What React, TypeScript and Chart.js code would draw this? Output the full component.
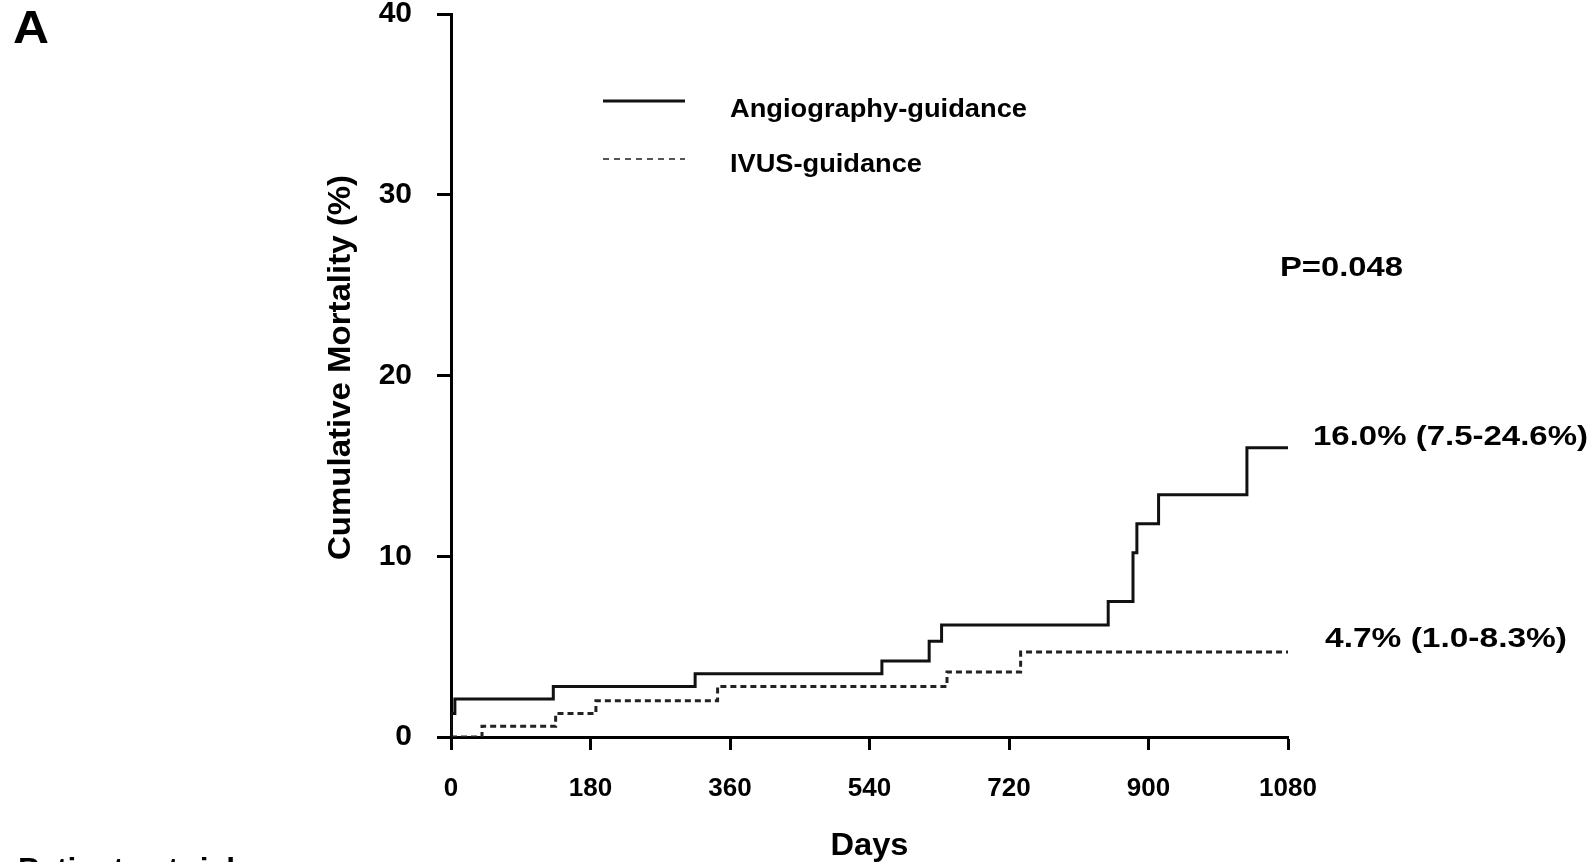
import React, { useEffect, useRef } from "react";
import { Chart, registerables } from "chart.js";

Chart.register(...registerables);

// ---- Data ----
const angioDays = [0, 0, 5, 132, 315, 556, 617, 633, 848, 880, 885, 913, 1027, 1080];
const angioCum = [0, 1.3, 2.1, 2.8, 3.5, 4.2, 5.3, 6.2, 7.5, 10.2, 11.8, 13.4, 16.0, 16.0];

const ivusDays = [0, 40, 135, 187, 344, 640, 735, 1080];
const ivusCum = [0, 0.6, 1.3, 2.0, 2.8, 3.6, 4.7, 4.7];

const xTicks = [0, 180, 360, 540, 720, 900, 1080];
const xTickLabels = ["0", "180", "360", "540", "720", "900", "1080"];
const yTicks = [0, 10, 20, 30, 40];
const yTickLabels = ["0", "10", "20", "30", "40"];

const seriesLabels = ["Angiography-guidance", "IVUS-guidance"];
const endLabels = ["16.0% (7.5-24.6%)", "4.7% (1.0-8.3%)"];
const pValueText = "P=0.048";
const panelLetter = "A";
const xTitle = "Days";
const yTitle = "Cumulative Mortality (%)";
const footerText = "Patients at risk";

const FONT = "'Liberation Sans', Arial, sans-serif";

function drawText(
  ctx: CanvasRenderingContext2D,
  s: string,
  x: number,
  y: number,
  size: number,
  opts: { align?: CanvasTextAlign; width?: number; rotate?: number; weight?: string } = {}
) {
  ctx.save();
  ctx.font = `${opts.weight ?? "bold"} ${size}px ${FONT}`;
  ctx.fillStyle = "#000";
  ctx.textBaseline = "alphabetic";
  ctx.textAlign = "left";
  const w = ctx.measureText(s).width;
  const sx = opts.width ? opts.width / w : 1;
  ctx.translate(x, y);
  if (opts.rotate) ctx.rotate(opts.rotate);
  ctx.scale(sx, 1);
  let dx = 0;
  if (opts.align === "center") dx = -w / 2;
  else if (opts.align === "right") dx = -w;
  ctx.fillText(s, dx, 0);
  ctx.restore();
}

const annotations = {
  id: "kmAnnotations",
  afterDraw(chart: any) {
    const ctx: CanvasRenderingContext2D = chart.ctx;
    const ds = chart.data.datasets;

    drawText(ctx, panelLetter, 13, 43, 46, { width: 36 });

    // legend
    const legendRows = [101, 159];
    const textBase = [117, 172];
    const textWidths = [297, 192];
    ds.forEach((d: any, i: number) => {
      ctx.save();
      ctx.strokeStyle = i === 0 ? "#111" : "#555";
      ctx.lineWidth = i === 0 ? 3 : 2;
      ctx.setLineDash(i === 0 ? [] : [6, 5]);
      ctx.beginPath();
      ctx.moveTo(603, legendRows[i]);
      ctx.lineTo(685, legendRows[i]);
      ctx.stroke();
      ctx.restore();
      drawText(ctx, seriesLabels[i], 730, textBase[i], 26, { width: textWidths[i] });
    });

    drawText(ctx, pValueText, 1280, 276, 28, { width: 123 });
    drawText(ctx, endLabels[0], 1313, 445, 28, { width: 275 });
    drawText(ctx, endLabels[1], 1325, 647, 28, { width: 242 });

    // axis titles
    const xs = chart.scales.x;
    const ys = chart.scales.y;
    const xMid = (xs.left + xs.right) / 2;
    drawText(ctx, xTitle, xMid, 855, 32, { align: "center", width: 78 });
    const yMid = (ys.top + ys.bottom) / 2 - 8;
    drawText(ctx, yTitle, 350, yMid, 32, { align: "center", rotate: -Math.PI / 2, width: 385 });

    drawText(ctx, footerText, 18, 880, 32, { width: 226 });
  },
};

export default function App() {
  const ref = useRef<HTMLCanvasElement | null>(null);

  useEffect(() => {
    if (!ref.current) return;
    const chart = new Chart(ref.current, {
      type: "line",
      data: {
        datasets: [
          {
            label: seriesLabels[0],
            data: angioDays.map((d, i) => ({ x: d, y: angioCum[i] })),
            borderColor: "#111",
            borderWidth: 3,
            pointRadius: 0,
            stepped: "before",
            fill: false,
          },
          {
            label: seriesLabels[1],
            data: ivusDays.map((d, i) => ({ x: d, y: ivusCum[i] })),
            borderColor: "#222",
            borderWidth: 3,
            borderDash: [6, 4],
            pointRadius: 0,
            stepped: "before",
            fill: false,
          },
        ],
      },
      options: {
        animation: false,
        responsive: false,
        devicePixelRatio: 1,
        layout: { padding: { left: 0, top: 14, right: 306, bottom: 0 } },
        plugins: { legend: { display: false }, tooltip: { enabled: false }, title: { display: false } },
        scales: {
          x: {
            type: "linear",
            min: 0,
            max: 1080,
            afterBuildTicks: (s: any) => {
              s.ticks = xTicks.map((v) => ({ value: v }));
            },
            afterFit: (s: any) => {
              s.height = 125;
              s.paddingLeft = 0;
              s.paddingRight = 0;
            },
            grid: {
              drawOnChartArea: false,
              drawTicks: true,
              tickLength: 13,
              tickWidth: 3,
              tickColor: "#000",
              color: "#000",
            },
            border: { display: true, color: "#000", width: 3 },
            ticks: {
              color: "#000",
              padding: 23,
              maxRotation: 0,
              autoSkip: false,
              callback: (v: any, i: number) => xTickLabels[i] ?? String(v),
              font: { family: FONT, size: 26, weight: "bold" },
            },
          },
          y: {
            type: "linear",
            min: 0,
            max: 40,
            afterBuildTicks: (s: any) => {
              s.ticks = yTicks.map((v) => ({ value: v }));
            },
            afterFit: (s: any) => {
              s.width = 451;
              s.paddingTop = 0;
              s.paddingBottom = 0;
            },
            grid: {
              drawOnChartArea: false,
              drawTicks: true,
              tickLength: 14,
              tickWidth: 3,
              tickColor: "#000",
              color: "#000",
            },
            border: { display: true, color: "#000", width: 3 },
            ticks: {
              color: "#000",
              padding: 25,
              autoSkip: false,
              callback: (v: any, i: number) => yTickLabels[i] ?? String(v),
              font: { family: FONT, size: 30, weight: "bold" },
            },
          },
        },
      },
      plugins: [annotations],
    } as any);
    return () => chart.destroy();
  }, []);

  return (
    <div style={{ position: "fixed", left: 0, top: 0, width: 1594, height: 862, background: "#fff" }}>
      <canvas ref={ref} width={1594} height={862} style={{ display: "block" }} />
    </div>
  );
}
